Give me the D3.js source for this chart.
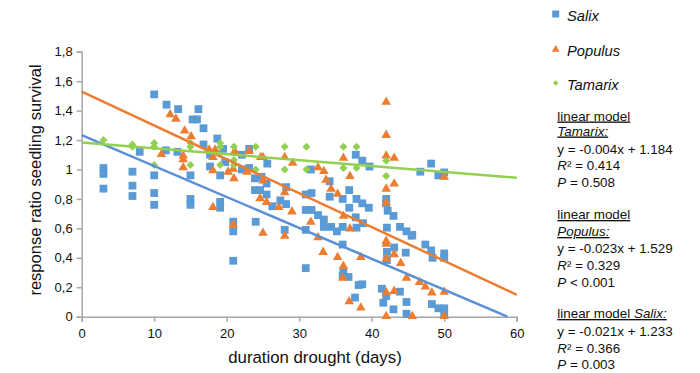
<!DOCTYPE html>
<html>
<head>
<meta charset="utf-8">
<script src="https://cdn.jsdelivr.net/npm/d3@7"></script>
<style>
  html, body { margin: 0; padding: 0; background: #fff; }
  svg { display: block; font-family: "Liberation Sans", Arial, sans-serif; }
</style>
</head>
<body>
<svg id="chart" width="700" height="373"></svg>
<script>
// ---------------- DATA ----------------
const xTicks = [0, 10, 20, 30, 40, 50, 60];
const yTicks = [0, 0.2, 0.4, 0.6, 0.8, 1, 1.2, 1.4, 1.6, 1.8];

const salix = [
  [3,1.01],[3,0.97],[3,0.87],
  [7,0.985],[7,0.89],[7,0.82],
  [8,1.12],
  [10,1.51],[10,0.96],[10,0.84],[10,0.76],
  [11.6,1.13],[11.7,1.44],
  [13.2,1.12],[13.3,1.41],
  [15,0.96],[15,0.80],[15,0.76],
  [15.3,1.34],[15.9,1.34],[16.1,1.41],[16.8,1.28],[16.8,1.17],
  [17.7,1.10],[17.7,1.02],[18.7,1.21],[19.5,1.14],[19.1,0.96],[19.8,1.05],[19.1,0.78],[19.1,0.74],
  [20.9,0.645],[20.9,0.58],[20.9,0.38],
  [22.1,1.10],[22.1,1.00],[23.1,1.14],[23.1,1.01],[23.9,0.94],[24.8,0.95],[23.9,0.86],[24.6,0.86],
  [25.5,0.905],[25.5,0.83],[25.6,1.04],[26.3,0.75],[27.4,0.79],[28.2,0.88],[28.2,0.765],[24.0,0.645],[28.0,0.59],
  [30.9,0.83],[30.9,0.725],[30.9,0.59],[30.9,0.33],
  [31.6,1.00],[31.7,0.84],[31.7,0.725],[32.6,0.69],[33.4,0.66],[33.4,0.61],[34.4,0.61],[35.2,0.58],
  [34.2,0.92],[34.2,0.815],[36.0,0.80],[36.0,0.61],[36.0,0.49],[36.1,0.30],[36.8,0.27],[36.0,0.28],
  [36.9,0.86],[36.9,0.74],[37.8,1.10],[38.7,1.06],[39.7,1.02],[37.9,0.80],[38.7,0.77],[39.6,0.74],
  [37.8,0.675],[38.8,0.635],[37.9,0.605],[38.2,0.215],[38.7,0.22],[37.7,0.13],
  [41.4,0.19],[42,0.80],[42,0.77],[42.2,0.72],[43,0.685],[42.1,0.605],[42.1,0.44],[42.1,0.385],[43.1,0.47],
  [43.9,0.61],[44.8,0.58],[45.5,0.55],[44.7,0.435],[42,0.14],[41.6,0.095],[43,0.05],[43.9,0.17],[44.8,0.10],[44.8,0.02],
  [46.7,0.985],[48.2,1.04],[49.2,0.96],[50,0.98],[45.6,0.555],[47.4,0.49],[48.2,0.45],[48.4,0.40],
  [50,0.43],[50,0.40],[48.3,0.086],[49.2,0.057],[50,0.057],[50,0.023]
];

const populus = [
  [11,1.10],[12.2,1.37],[13,1.34],[14.2,1.26],[15.1,1.22],[14,1.09],[14,1.065],[14,1.01],
  [17.6,1.13],[18.4,1.13],[18.1,1.08],[18.1,0.99],[18.1,0.74],[20.2,0.98],[20.9,1.00],[21.0,0.935],
  [21.1,1.12],[20.9,0.62],[22.8,0.98],[23.1,1.12],[24.7,1.08],[25,1.08],[25,0.92],[24.6,0.80],
  [25.5,0.775],[27.2,0.74],[28,1.08],[28,0.84],[29.1,1.04],[29,0.71],[25,0.565],[28,0.545],
  [32.6,1.01],[33.4,0.985],[33.7,0.925],[36.1,1.075],[37,0.95],[34.4,0.865],[35.3,0.83],[36.1,0.68],
  [37,0.595],[31.6,0.64],[32.6,0.535],[33.3,0.435],[35.3,0.40],[36.1,0.34],[36,0.26],[38.5,0.40],
  [36.9,0.10],[38.5,0.057],
  [42,1.455],[42,1.23],[42,1.09],[43.1,1.075],[42,0.865],[42,0.77],[43.1,0.90],[42,0.51],[42,0.49],
  [42,0.39],[43.1,0.42],[44,0.36],[44.8,0.26],[42,0.16],[43.1,0.17],[42,0],[45.6,0],
  [50,0.945],[46.6,0.23],[47.4,0.20],[48.3,0.16],[50,0.165],[50,0]
];

const tamarix = [
  [3,1.20],[7,1.17],[7,1.155],[10,1.18],[10,1.155],[10,1.03],[15,1.18],[15,1.155],[15,1.03],
  [19.1,1.18],[19.1,1.155],[19.1,1.03],[21,1.155],[21,1.065],[21,1.03],[24,1.155],[24,1.00],
  [28,1.155],[28,1.00],[31,1.155],[31,1.00],[36.1,1.155],[36.1,1.01],[37.9,1.155],[37.9,1.01],
  [42,1.06],[42,0.955]
];

// linear models: [slope, intercept]
const modelSalix = [-0.021, 1.233];
const modelPopulus = [-0.023, 1.529];
const modelTamarix = [-0.004, 1.184];

const seriesNames = ["Salix", "Populus", "Tamarix"];
const colors = { Salix: "#5b9bd5", Populus: "#ed7d31", Tamarix: "#92d050" };
const lineColors = { Salix: "#5a8fd6", Populus: "#ed7d31", Tamarix: "#92d050" };

// ---------------- CHART ----------------
const svg = d3.select("#chart");
const x = d3.scaleLinear().domain([0, 60]).range([81.7, 516.7]);
const y = d3.scaleLinear().domain([0, 1.8]).range([316.7, 51.7]);

const fmt = d => String(d3.format("~g")(d)).replace(".", ",");
const axisColor = "#a6a6a6";

const gy = svg.append("g").attr("transform", `translate(${x(0)},0)`)
  .call(d3.axisLeft(y).tickValues(yTicks).tickFormat(fmt).tickSize(5).tickPadding(4));
const gx = svg.append("g").attr("transform", `translate(0,${y(0)})`)
  .call(d3.axisBottom(x).tickValues(xTicks).tickFormat(d3.format("d")).tickSize(5).tickPadding(7));
[gx, gy].forEach(g => {
  g.select(".domain").attr("stroke", axisColor).attr("stroke-width", 1.5);
  g.selectAll(".tick line").attr("stroke", axisColor).attr("stroke-width", 1.5);
  g.selectAll(".tick text").attr("fill", "#111").attr("font-size", 13)
    .attr("font-family", "'Liberation Sans', Arial, sans-serif");
});

// Axis titles
svg.append("text").attr("x", 315).attr("y", 363).attr("text-anchor", "middle")
  .attr("font-size", 16.8).attr("fill", "#111").text("duration drought (days)");
svg.append("text").attr("transform", "translate(40.5,180) rotate(-90)").attr("text-anchor", "middle")
  .attr("font-size", 16.5).attr("fill", "#111").text("response ratio seedling survival");

// Marker shapes
const sqSize = 7.8;
function drawSquares(g, data, color, s) {
  g.selectAll(null).data(data).enter().append("rect")
    .attr("x", d => x(d[0]) - s / 2).attr("y", d => y(d[1]) - s / 2)
    .attr("width", s).attr("height", s).attr("fill", color);
}
const triSym = d3.symbol().type(d3.symbolTriangle).size(40);

const gPts = svg.append("g");
drawSquares(gPts.append("g"), salix, colors.Salix, sqSize);
gPts.append("g").selectAll("path").data(populus).enter().append("path")
  .attr("d", triSym).attr("fill", colors.Populus)
  .attr("transform", d => `translate(${x(d[0])},${y(d[1]) - 0.5})`);
gPts.append("g").selectAll("path").data(tamarix).enter().append("path")
  .attr("d", d3.symbol().type(d3.symbolSquare).size(32)).attr("fill", colors.Tamarix)
  .attr("transform", d => `translate(${x(d[0])},${y(d[1])}) rotate(45)`);

// Trend lines
function trend(model, color) {
  const [m, b] = model;
  let x1 = 60;
  if (b + m * 60 < 0) x1 = -b / m;
  svg.append("line")
    .attr("x1", x(0)).attr("y1", y(b))
    .attr("x2", x(x1)).attr("y2", y(b + m * x1))
    .attr("stroke", color).attr("stroke-width", 2.5);
}
trend(modelSalix, lineColors.Salix);
trend(modelPopulus, lineColors.Populus);
trend(modelTamarix, lineColors.Tamarix);

// Legend
const leg = svg.append("g");
const legX = 555.7;
const legRows = [14, 49.5, 83];
leg.append("rect").attr("x", legX - 3.5).attr("y", legRows[0] - 3.5).attr("width", 7).attr("height", 7).attr("fill", colors.Salix);
leg.append("path").attr("d", d3.symbol().type(d3.symbolTriangle).size(26)).attr("fill", colors.Populus)
  .attr("transform", `translate(${legX},${legRows[1]})`);
leg.append("path").attr("d", d3.symbol().type(d3.symbolSquare).size(16)).attr("fill", colors.Tamarix)
  .attr("transform", `translate(${legX},${legRows[2]}) rotate(45)`);
seriesNames.forEach((n, i) => {
  leg.append("text").attr("x", 567).attr("y", legRows[i] + 6.5).attr("font-size", 14.7)
    .attr("font-style", "italic").attr("fill", "#111").text(n);
});

// Annotations
const ann = svg.append("g").attr("font-size", 13.4).attr("fill", "#111");
const ax = 557.3;
function line(yy, parts) {
  const t = ann.append("text").attr("x", ax).attr("y", yy);
  parts.forEach(p => {
    const ts = t.append("tspan").text(p.t);
    if (p.i) ts.attr("font-style", "italic");
    if (p.u) ts.style("text-decoration", "underline");
  });
}
// Tamarix
line(120.5, [{ t: "linear model", u: true }]);
line(135.5, [{ t: "Tamarix:", u: true, i: true }]);
line(153.5, [{ t: "y = -0.004x + 1.184" }]);
line(169.5, [{ t: "R", i: true }, { t: "² = 0.414" }]);
line(187, [{ t: "P", i: true }, { t: " = 0.508" }]);
// Populus
line(219, [{ t: "linear model", u: true }]);
line(236, [{ t: "Populus:", u: true, i: true }]);
line(253, [{ t: "y = -0.023x + 1.529" }]);
line(270, [{ t: "R", i: true }, { t: "² = 0.329" }]);
line(286.5, [{ t: "P", i: true }, { t: " < 0.001" }]);
// Salix
line(318, [{ t: "linear model ", u: true }, { t: "Salix:", u: true, i: true }]);
line(335.5, [{ t: "y = -0.021x + 1.233" }]);
line(352.5, [{ t: "R", i: true }, { t: "² = 0.366" }]);
line(369, [{ t: "P", i: true }, { t: " = 0.003" }]);
</script>
</body>
</html>
